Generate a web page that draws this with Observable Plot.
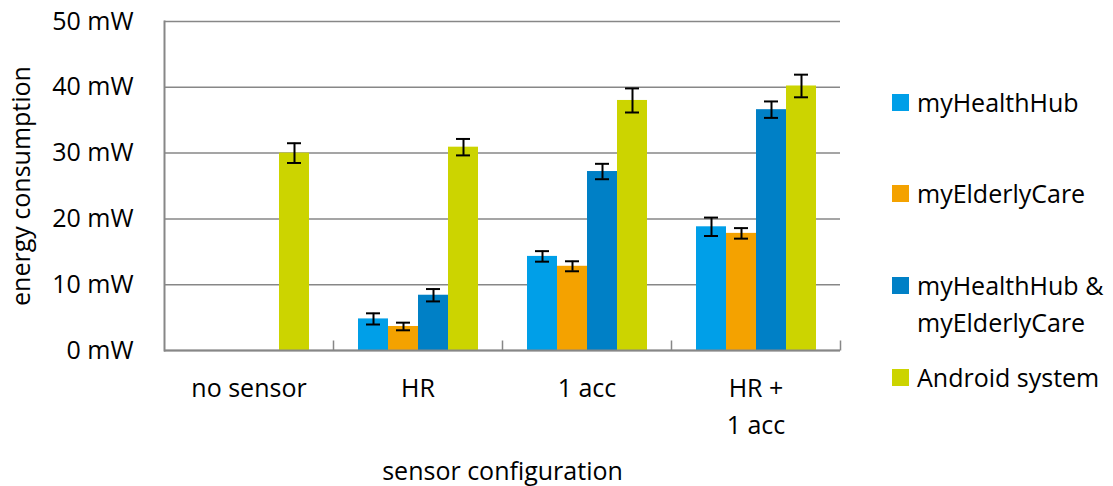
<!DOCTYPE html>
<html><head><meta charset="utf-8">
<script src="https://cdn.jsdelivr.net/npm/d3@7"></script>
<script src="https://cdn.jsdelivr.net/npm/@observablehq/plot@0.6"></script>
<style>
body{margin:0;background:#fff;font-family:"Open Sans",sans-serif;}
#wrap{position:relative;width:1113px;height:486px;overflow:hidden;}
.leg{position:absolute;left:892px;font-size:25px;color:#000;line-height:37px;white-space:pre;}
.leg .txt{margin-left:25px;}
.sw{position:absolute;left:0;top:10px;width:17px;height:17px;}
</style></head><body><div id="wrap"></div>
<script>
const categories = ["no sensor", "HR", "1 acc", "HR +\n1 acc"];
const series = ["myHealthHub", "myElderlyCare", "myHealthHub & myElderlyCare", "Android system"];
const legendLabels = ["myHealthHub", "myElderlyCare", "myHealthHub &\nmyElderlyCare", "Android system"];
const colors = ["#009FE8", "#F4A200", "#0080C6", "#CCD400"];
const yTicks = [0, 10, 20, 30, 40, 50];

const myHealthHub = [0, 4.8, 14.3, 18.8];
const myHealthHubErr = [0, 0.85, 0.8, 1.4];
const myElderlyCare = [0, 3.65, 12.8, 17.8];
const myElderlyCareErr = [0, 0.58, 0.76, 0.8];
const combined = [0, 8.4, 27.2, 36.6];
const combinedErr = [0, 0.94, 1.17, 1.25];
const android = [30.0, 30.9, 38.0, 40.2];
const androidErr = [1.5, 1.25, 1.83, 1.72];

const values = [myHealthHub, myElderlyCare, combined, android];
const errs = [myHealthHubErr, myElderlyCareErr, combinedErr, androidErr];

const data = [];
categories.forEach((c, i) => series.forEach((s, j) =>
  data.push({cat: c, series: s, value: values[j][i], err: errs[j][i]})));
const errData = data.filter(d => d.value > 0);

const gray = "#878787";
const tickSymbol = {draw(ctx) { ctx.moveTo(0, 0); ctx.lineTo(0, -10); }};

const chart = Plot.plot({
  width: 1113, height: 486,
  marginLeft: 163, marginRight: 273, marginTop: 21, marginBottom: 136,
  style: {fontFamily: '"Open Sans", sans-serif', fontSize: "25px", color: "#000", background: "#fff"},
  fx: {domain: categories, padding: 0},
  x: {domain: series, paddingInner: 0, paddingOuter: 0.757, axis: null},
  y: {domain: [0, 50]},
  color: {domain: series, range: colors},
  marks: [
    Plot.gridY(yTicks, {stroke: gray, strokeOpacity: 1, strokeWidth: 1.5}),
    Plot.barY(data, {fx: "cat", x: "series", y: "value", fill: "series"}),
    Plot.ruleX(errData, {fx: "cat", x: "series", y1: d => d.value - d.err, y2: d => d.value + d.err, stroke: "#000", strokeWidth: 2}),
    Plot.tickY(errData, {fx: "cat", x: "series", y: d => d.value + d.err, stroke: "#000", strokeWidth: 2, insetLeft: 8, insetRight: 8}),
    Plot.tickY(errData, {fx: "cat", x: "series", y: d => d.value - d.err, stroke: "#000", strokeWidth: 2, insetLeft: 8, insetRight: 8}),
    Plot.ruleY([0], {stroke: gray, strokeWidth: 2}),
    Plot.frame({anchor: "left", facetAnchor: "left", stroke: gray, strokeWidth: 2}),
    Plot.dot(categories, {fx: d => d, frameAnchor: "bottom-right", symbol: tickSymbol, stroke: gray, strokeWidth: 1.5, fill: "none"}),
    Plot.axisY({ticks: yTicks, tickFormat: d => `${d} mW`, tickSize: 0, tickPadding: 31, fontSize: 25,
      label: "energy consumption", labelAnchor: "center", labelOffset: 152, labelArrow: "none"}),
    Plot.axisFx({anchor: "bottom", tickSize: 0, tickPadding: 20, fontSize: 25, lineHeight: 1.48,
      label: "sensor configuration", labelAnchor: "center", labelOffset: 129, labelArrow: "none"})
  ]
});
const wrap = document.getElementById("wrap");
wrap.appendChild(chart);

const legTops = [83.5, 174.5, 266.5, 358.5];
series.forEach((s, i) => {
  const item = document.createElement("div");
  item.className = "leg";
  item.style.top = legTops[i] + "px";
  const sw = document.createElement("div");
  sw.className = "sw";
  sw.style.background = colors[i];
  const t = document.createElement("div");
  t.className = "txt";
  t.textContent = legendLabels[i];
  item.appendChild(sw); item.appendChild(t);
  wrap.appendChild(item);
});
</script>
</body></html>
